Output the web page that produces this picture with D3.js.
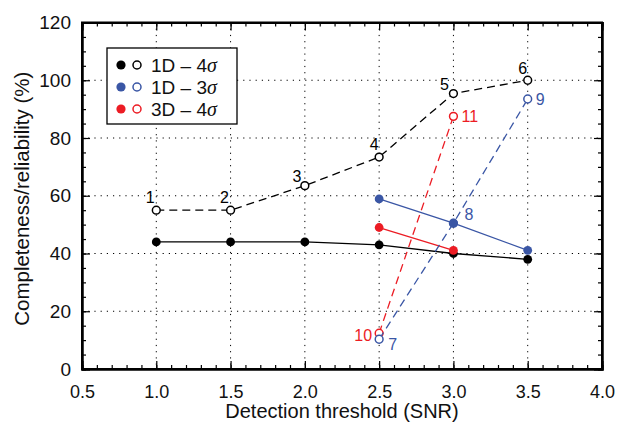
<!DOCTYPE html>
<html><head><meta charset="utf-8">
<script src="https://cdn.jsdelivr.net/npm/d3@7/dist/d3.min.js"></script>
<style>body{margin:0;background:#fff;} text{font-family:"Liberation Sans",Arial,Helvetica,sans-serif;}</style>
</head><body>
<svg id="c" width="620" height="426"></svg>
<script>
const xTicks = [0.5,1.0,1.5,2.0,2.5,3.0,3.5,4.0];
const yTicks = [0,20,40,60,80,100,120];

const x1D4 = [1.0,1.5,2.0,2.5,3.0,3.5];
const comp1D4 = [44,44,44,43,40,38];
const rel1D4 = [55,55,63.5,73.4,95.4,100];
const lab1D4 = ["1","2","3","4","5","6"];

const x1D3 = [2.5,3.0,3.5];
const comp1D3 = [58.9,50.5,41.1];
const rel1D3 = [10.3,50.5,93.5];
const lab1D3 = ["7","8","9"];

const x3D4 = [2.5,3.0];
const comp3D4 = [49,41.1];
const rel3D4 = [12.4,87.5];
const lab3D4 = ["10","11"];

const legendLabels = ["1D – 4", "1D – 3", "3D – 4"];
const colors = ["#000000","#3a56a5","#ec1c24"];

const svg = d3.select("#c");
const L=82, R=602, T=22.5, B=369;
const x = d3.scaleLinear().domain([0.5,4.0]).range([L,R]);
const y = d3.scaleLinear().domain([0,120]).range([B,T]);

// grid
const g = svg.append("g");
g.selectAll(".gx").data(xTicks.slice(1,-1)).enter().append("line")
  .attr("x1",d=>x(d)).attr("x2",d=>x(d)).attr("y1",T).attr("y2",B)
  .attr("stroke","#000").attr("stroke-width",1).attr("stroke-dasharray","1.2,5");
g.selectAll(".gy").data(yTicks.slice(1,-1)).enter().append("line")
  .attr("y1",d=>y(d)).attr("y2",d=>y(d)).attr("x1",L).attr("x2",R)
  .attr("stroke","#000").attr("stroke-width",1).attr("stroke-dasharray","1.2,5");

// axes with inward ticks
const xMinor = d3.range(0.5,4.0001,0.1);
const yMinor = d3.range(0,120.001,5);
svg.append("g").attr("transform",`translate(0,${B})`)
  .call(d3.axisBottom(x).tickValues(xMinor).tickSize(-4).tickFormat(""));
svg.append("g").attr("class","xl").attr("transform",`translate(0,${B})`)
  .call(d3.axisBottom(x).tickValues(xTicks).tickSize(-8).tickPadding(16).tickFormat(d3.format(".1f")));
svg.append("g").attr("transform",`translate(0,${T})`)
  .call(d3.axisTop(x).tickValues(xMinor).tickSize(-4).tickFormat(""));
svg.append("g").attr("transform",`translate(0,${T})`)
  .call(d3.axisTop(x).tickValues(xTicks).tickSize(-8).tickFormat(""));
svg.append("g").attr("transform",`translate(${L},0)`)
  .call(d3.axisLeft(y).tickValues(yMinor).tickSize(-4).tickFormat(""));
svg.append("g").attr("class","yl").attr("transform",`translate(${L},0)`)
  .call(d3.axisLeft(y).tickValues(yTicks).tickSize(-8).tickPadding(11).tickFormat(d3.format("d")));
svg.append("g").attr("transform",`translate(${R},0)`)
  .call(d3.axisRight(y).tickValues(yMinor).tickSize(-4).tickFormat(""));
svg.append("g").attr("transform",`translate(${R},0)`)
  .call(d3.axisRight(y).tickValues(yTicks).tickSize(-8).tickFormat(""));
svg.selectAll(".domain").attr("stroke","#000").attr("stroke-width",2);
svg.selectAll(".tick line").attr("stroke","#000").attr("stroke-width",1.2);
svg.selectAll(".xl .tick text").attr("font-size",18);
svg.selectAll(".yl .tick text").attr("font-size",19);
svg.selectAll(".tick text").attr("fill","#111")
  .style("font-family","'Liberation Sans',Arial,sans-serif");
// frame
svg.append("rect").attr("x",L).attr("y",T).attr("width",R-L).attr("height",B-T)
  .attr("fill","none").attr("stroke","#000").attr("stroke-width",2);

// titles
svg.append("text").attr("x",(L+R)/2).attr("y",418).attr("text-anchor","middle")
  .attr("font-size",20).attr("fill","#111").text("Detection threshold (SNR)");
svg.append("text").attr("transform",`translate(29,${(T+B)/2+3}) rotate(-90)`).attr("text-anchor","middle")
  .attr("font-size",20.5).attr("fill","#111").text("Completeness/reliability (%)");

const line = d3.line().x(d=>x(d[0])).y(d=>y(d[1]));
function series(xs, comp, rel, labs, col, dash, labOff){
  const cd = xs.map((v,i)=>[v,comp[i]]);
  const rd = xs.map((v,i)=>[v,rel[i]]);
  svg.append("path").datum(rd).attr("d",line).attr("fill","none").attr("stroke",col)
    .attr("stroke-width",1.3).attr("stroke-dasharray",dash);
  svg.append("path").datum(cd).attr("d",line).attr("fill","none").attr("stroke",col).attr("stroke-width",1.3);
  svg.selectAll(null).data(rd).enter().append("circle")
    .attr("cx",d=>x(d[0])).attr("cy",d=>y(d[1])).attr("r",3.9)
    .attr("fill","#fff").attr("stroke",col).attr("stroke-width",1.5);
  svg.selectAll(null).data(cd).enter().append("circle")
    .attr("cx",d=>x(d[0])).attr("cy",d=>y(d[1])).attr("r",4.4)
    .attr("fill",col);
  svg.selectAll(null).data(rd).enter().append("text")
    .attr("x",(d,i)=>x(d[0])+labOff[i][0]).attr("y",(d,i)=>y(d[1])+labOff[i][1])
    .attr("text-anchor",(d,i)=>labOff[i][2]).attr("font-size",16).attr("fill",col)
    .text((d,i)=>labs[i]);
}
series(x1D4, comp1D4, rel1D4, lab1D4, colors[0], "8,5",
  [[-6,-7,"middle"],[-6,-7,"middle"],[-8,-4,"middle"],[-5,-7,"middle"],[-9,-4,"middle"],[-5,-6,"middle"]]);
series(x3D4, comp3D4, rel3D4, lab3D4, colors[2], "8,5",
  [[-7,8,"end"],[8,6,"start"]]);
series(x1D3, comp1D3, rel1D3, lab1D3, colors[1], "8,5",
  [[9,11,"start"],[11,-3,"start"],[8,6,"start"]]);

// legend
const lg = svg.append("g");
lg.append("rect").attr("x",107).attr("y",48).attr("width",130).attr("height",76)
  .attr("fill","#fff").attr("stroke","#000").attr("stroke-width",1.3);
legendLabels.forEach((t,i)=>{
  const yy = 65 + i*22;
  lg.append("circle").attr("cx",121).attr("cy",yy).attr("r",4.6).attr("fill",colors[i]);
  lg.append("circle").attr("cx",137).attr("cy",yy).attr("r",4.0).attr("fill","#fff")
    .attr("stroke",colors[i]).attr("stroke-width",1.5);
  const tx = lg.append("text").attr("x",151).attr("y",yy+7).attr("font-size",19).attr("fill","#111");
  tx.append("tspan").text(t);
  tx.append("tspan").attr("font-family","'Liberation Serif','Times New Roman',serif")
    .attr("font-style","italic").attr("font-size",20).text("σ");
});
</script>
</body></html>
